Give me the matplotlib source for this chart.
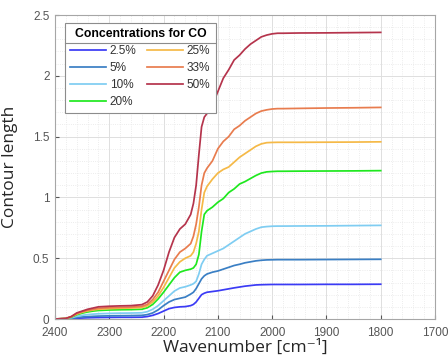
import numpy as np
import matplotlib.pyplot as plt
from matplotlib.ticker import MultipleLocator
from matplotlib.lines import Line2D

# wavenumber grid [cm-1]
wavenumber = [2400, 2380, 2370, 2360, 2350, 2340, 2330, 2320, 2300, 2280, 2260,
              2240, 2230, 2220, 2210, 2200, 2190, 2180, 2170, 2160, 2150, 2145,
              2140, 2135, 2130, 2125, 2120, 2110, 2100, 2090, 2080, 2070, 2060,
              2050, 2040, 2030, 2020, 2010, 2000, 1990, 1980, 1950, 1900, 1850, 1800]

co_2p5 = [0, 0.001, 0.003, 0.006, 0.008, 0.010, 0.011, 0.012, 0.013, 0.014, 0.014,
          0.015, 0.020, 0.030, 0.045, 0.065, 0.085, 0.095, 0.100, 0.102, 0.110, 0.120,
          0.140, 0.170, 0.200, 0.212, 0.220, 0.226, 0.232, 0.240, 0.248, 0.256, 0.263,
          0.270, 0.275, 0.280, 0.282, 0.283, 0.284, 0.284, 0.284, 0.284, 0.285, 0.285, 0.286]
co_5 = [0, 0.002, 0.006, 0.012, 0.017, 0.020, 0.022, 0.024, 0.026, 0.027, 0.028,
        0.030, 0.036, 0.050, 0.075, 0.110, 0.140, 0.160, 0.170, 0.180, 0.205, 0.220,
        0.250, 0.290, 0.330, 0.355, 0.370, 0.385, 0.395, 0.410, 0.425, 0.440, 0.450,
        0.462, 0.470, 0.478, 0.483, 0.486, 0.487, 0.488, 0.488, 0.488, 0.489, 0.490, 0.491]
co_10 = [0, 0.003, 0.010, 0.022, 0.030, 0.036, 0.040, 0.043, 0.046, 0.048, 0.049,
         0.051, 0.060, 0.080, 0.110, 0.150, 0.190, 0.230, 0.255, 0.265, 0.280, 0.290,
         0.310, 0.370, 0.450, 0.490, 0.520, 0.540, 0.560, 0.580, 0.610, 0.640, 0.670,
         0.700, 0.720, 0.740, 0.755, 0.760, 0.763, 0.764, 0.764, 0.765, 0.766, 0.768, 0.770]
co_20 = [0, 0.004, 0.015, 0.035, 0.048, 0.058, 0.065, 0.070, 0.074, 0.076, 0.077,
         0.080, 0.092, 0.120, 0.165, 0.220, 0.280, 0.340, 0.385, 0.400, 0.410, 0.420,
         0.450, 0.530, 0.720, 0.860, 0.890, 0.920, 0.960, 0.990, 1.040, 1.070, 1.110,
         1.130, 1.155, 1.180, 1.200, 1.210, 1.213, 1.215, 1.215, 1.216, 1.217, 1.218, 1.220]
co_25 = [0, 0.004, 0.018, 0.040, 0.055, 0.066, 0.074, 0.080, 0.085, 0.088, 0.090,
         0.095, 0.108, 0.140, 0.190, 0.260, 0.340, 0.420, 0.470, 0.500, 0.520, 0.550,
         0.620, 0.720, 0.900, 1.040, 1.090, 1.150, 1.200, 1.230, 1.250, 1.290, 1.330,
         1.360, 1.390, 1.420, 1.440, 1.450, 1.452, 1.453, 1.453, 1.453, 1.454, 1.455, 1.457]
co_33 = [0, 0.005, 0.020, 0.045, 0.060, 0.072, 0.080, 0.088, 0.093, 0.096, 0.098,
         0.104, 0.120, 0.160, 0.220, 0.310, 0.400, 0.490, 0.550, 0.580, 0.620, 0.680,
         0.780, 0.920, 1.100, 1.200, 1.240, 1.300, 1.400, 1.460, 1.500, 1.560, 1.590,
         1.630, 1.660, 1.690, 1.710, 1.720, 1.727, 1.730, 1.730, 1.732, 1.735, 1.737, 1.740]
co_50 = [0, 0.005, 0.020, 0.050, 0.065, 0.080, 0.090, 0.100, 0.105, 0.108, 0.110,
         0.118, 0.140, 0.190, 0.280, 0.400, 0.550, 0.670, 0.740, 0.780, 0.860, 0.950,
         1.100, 1.350, 1.580, 1.660, 1.690, 1.760, 1.870, 1.980, 2.050, 2.130, 2.170,
         2.220, 2.260, 2.290, 2.320, 2.335, 2.345, 2.350, 2.350, 2.352, 2.353, 2.355, 2.357]

labels = ['2.5%', '5%', '10%', '20%', '25%', '33%', '50%']
series = [co_2p5, co_5, co_10, co_20, co_25, co_33, co_50]
colors = ['#3b3bf5', '#3a7fc4', '#7fcdf2', '#1fe81f', '#f5b947', '#e87c4e', '#b5344c']

plt.rcParams['font.family'] = ['Liberation Sans', 'DejaVu Sans']

fig = plt.figure(figsize=(4.48, 3.6), dpi=100)
ax = fig.add_axes([55 / 448, 41 / 360, 380 / 448, 304 / 360])

for y, lab, c in zip(series, labels, colors):
    ax.plot(wavenumber, y, color=c, lw=1.25, label=lab)

ax.set_xlim(2400, 1700)
ax.set_ylim(0, 2.5)
ax.xaxis.set_major_locator(MultipleLocator(100))
ax.xaxis.set_minor_locator(MultipleLocator(20))
ax.yaxis.set_minor_locator(MultipleLocator(0.1))
ax.set_yticks([0, 0.5, 1, 1.5, 2, 2.5])
ax.set_yticklabels(['0', '0.5', '1', '1.5', '2', '2.5'])

ax.grid(which='major', color='#dedede', lw=0.7)
ax.grid(which='minor', color='#e6e6e6', lw=0.6, ls=':')
ax.set_axisbelow(True)
ax.tick_params(which='both', direction='in', colors='#555555', labelsize=8.5,
               top=False, right=False)
ax.tick_params(which='major', length=3)
ax.tick_params(axis='x', pad=6)
ax.tick_params(axis='y', pad=4)
ax.tick_params(which='minor', length=0)
for sp in ax.spines.values():
    sp.set_color('#a6a6a6')
    sp.set_linewidth(0.8)

ax.set_xlabel('Wavenumber [cm\u207b\u00b9]', family=['Open Sans', 'DejaVu Sans'],
              fontsize=12.5, color='#262626', labelpad=0)
ax.set_ylabel('Contour length', family='Open Sans', fontsize=12.5,
              color='#262626', labelpad=11)

leg = ax.legend(ncol=2, loc='upper left', bbox_to_anchor=(10 / 380, 0.974),
                borderaxespad=0, fontsize=8.5, title='Concentrations for CO',
                title_fontproperties={'weight': 'bold', 'size': 8.8},
                handlelength=3.0, handletextpad=0.35, columnspacing=0.9,
                labelspacing=0.42, fancybox=False, framealpha=1,
                edgecolor='#8c8c8c', borderpad=0.45)
leg.get_frame().set_linewidth(0.8)
for t in leg.get_texts():
    t.set_color('#333333')

# separator line under the legend title
fig.canvas.draw()
r = fig.canvas.get_renderer()
fb = leg.get_frame().get_window_extent(r)
tb = leg.get_title().get_window_extent(r)
ysep = (tb.y0 - 3) / fig.bbox.height
fig.add_artist(Line2D([fb.x0 / fig.bbox.width, fb.x1 / fig.bbox.width], [ysep, ysep],
                      color='#8c8c8c', lw=0.8))

plt.savefig('out.png', dpi=100)
